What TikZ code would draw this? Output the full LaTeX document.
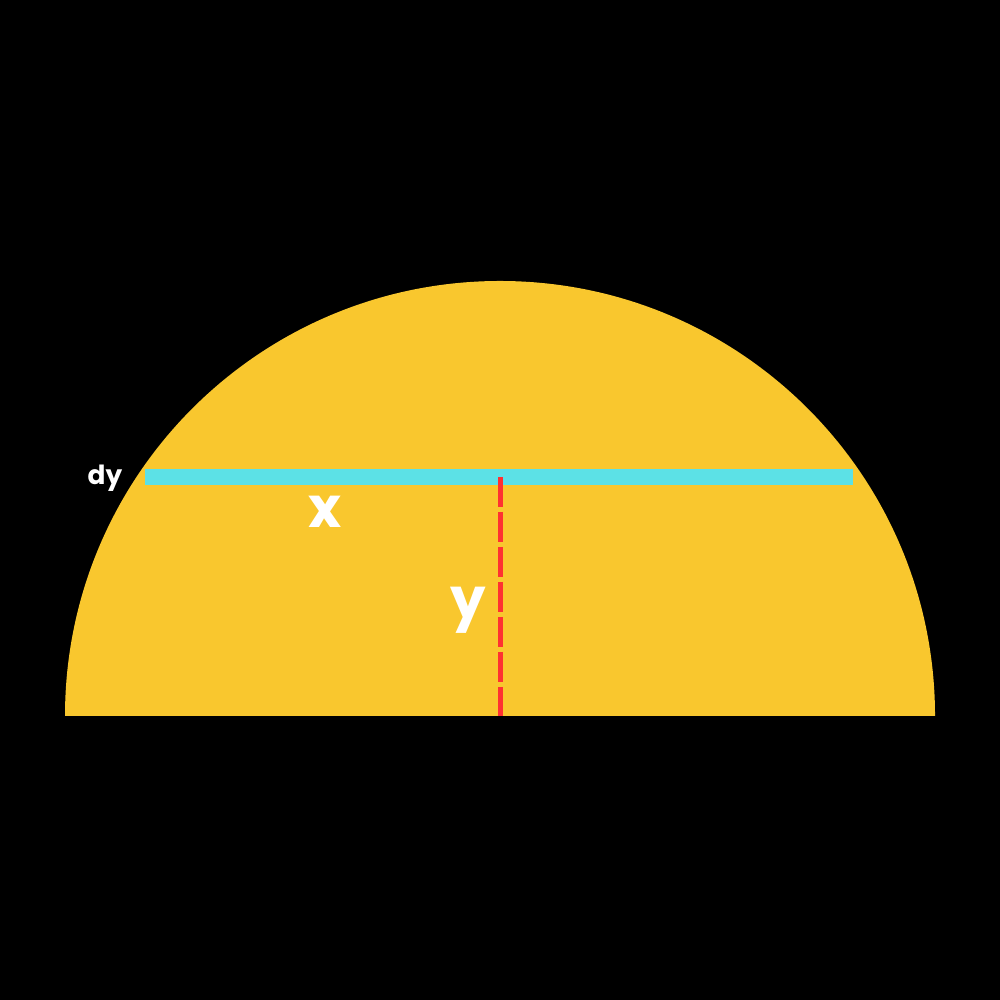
\documentclass[tikz,border=0pt]{standalone}
\usepackage{fontspec}
\setmainfont{Poppins}
\usetikzlibrary{positioning}
\definecolor{sunyellow}{HTML}{F9C72E}
\definecolor{stripcyan}{HTML}{5CE1E6}
\definecolor{heightred}{HTML}{FF3131}

\begin{document}
\begin{tikzpicture}[lbl/.style={text=white,font=\bfseries,inner sep=0pt},strip/.style={draw=stripcyan,line width=1.6mm},heightline/.style={draw=heightred,line width=0.5mm,dash pattern=on 3mm off 0.5mm}]
\fill[black] (0,0) rectangle (10,10);
\useasboundingbox (0,0) rectangle (10,10);
% half disc
\fill[sunyellow] (0.65,2.84) arc[start angle=180,end angle=0,radius=4.35] -- cycle;
\coordinate (stripL) at (1.45,5.225);
\coordinate (stripR) at (8.53,5.225);
\coordinate (top) at (5,5.23);
\coordinate (base) at (5,2.84);
\draw[strip] (stripL)--(stripR);
\draw[heightline] (top)--(base);
\node[lbl,font=\fontsize{7.5}{9}\bfseries\selectfont] (dy) at (1.05,5.22) {dy};
\node[lbl,font=\fontsize{16}{19}\bfseries\selectfont] (xlbl) at (3.25,4.88) {x};
\node[lbl,font=\fontsize{16}{19}\bfseries\selectfont] (ylbl) at (4.68,3.9) {y};
\end{tikzpicture}
\end{document}
